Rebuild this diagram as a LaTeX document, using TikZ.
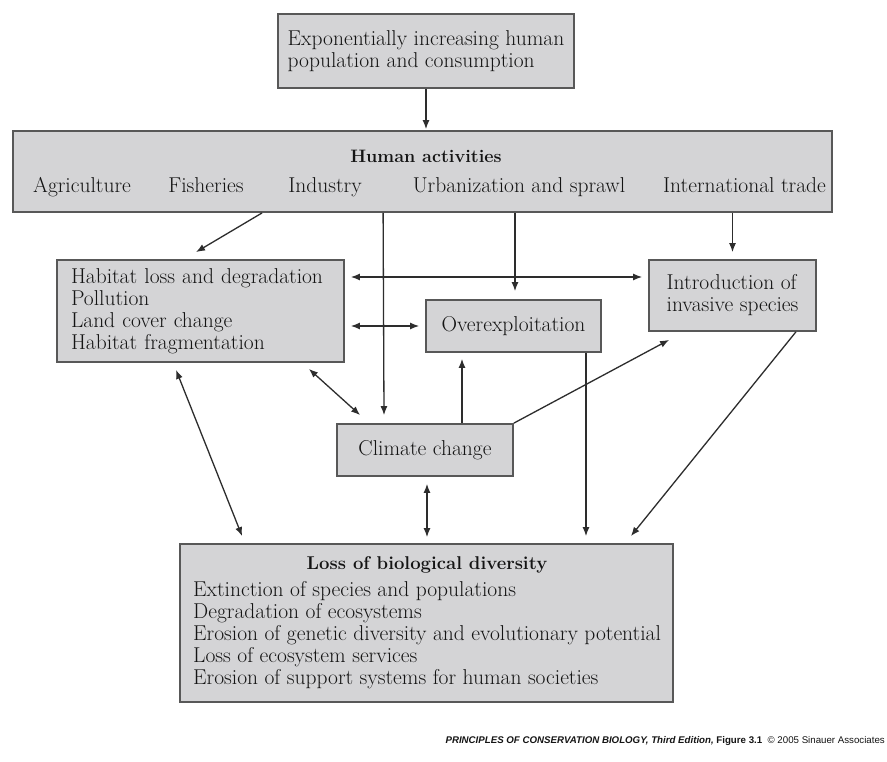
\documentclass[tikz,border=0pt]{standalone}
\usepackage{fontspec}
\newfontfamily\footfont{Liberation Sans}
\usetikzlibrary{arrows.meta}
\definecolor{boxfill}{RGB}{212,212,214}
\definecolor{boxline}{RGB}{88,88,88}
\definecolor{inkc}{RGB}{20,20,20}
\definecolor{arrc}{RGB}{45,45,45}
\tikzset{
  boxnode/.style={draw=boxline, line width=1.8pt, fill=boxfill, inner ysep=0pt,
    font=\fontsize{21.5}{22}\selectfont, text=inkc},
  txt/.style={inner sep=0pt, font=\fontsize{21.5}{22}\selectfont, text=inkc},
  arr/.style={draw=arrc, line width=1.3pt, -{Latex[length=9pt,width=7pt]}},
  darr/.style={draw=arrc, line width=1.3pt, {Latex[length=9pt,width=7pt]}-{Latex[length=9pt,width=7pt]}}
}
\begin{document}
\begin{tikzpicture}[x=1pt,y=-1pt]
\useasboundingbox (0,0) rectangle (887,762);
\fill[white] (0,0) rectangle (887,762);

% boxes
\node[boxnode, minimum width=296pt, minimum height=74pt, align=left] (top) at (426,51)
  {Exponentially increasing human\\population and consumption};
\node[boxnode, minimum width=819pt, minimum height=81pt] (hum) at (422.5,171.5) {};
\node[txt, font=\fontsize{18}{20}\selectfont\bfseries] (humt) at (426,156) {Human activities};
\node[txt, anchor=base] (agr) at (82,193) {Agriculture};
\node[txt, anchor=base] (fis) at (206,193) {Fisheries};
\node[txt, anchor=base] (ind) at (325,193) {Industry};
\node[txt, anchor=base] (urb) at (519,193) {Urbanization and sprawl};
\node[txt, anchor=base] (itr) at (744.5,193) {International trade};

\node[boxnode, inner xsep=14pt, text width=259pt, minimum height=102pt, align=left] (hab) at (200.5,311)
  {Habitat loss and degradation\\Pollution\\Land cover change\\Habitat fragmentation};
\node[boxnode, minimum width=175pt, minimum height=52pt] (ovr) at (513.5,326) {Overexploitation};
\node[boxnode, minimum width=167pt, minimum height=71pt, align=left] (intro) at (732.5,295.5)
  {Introduction of\\invasive species};
\node[boxnode, minimum width=176pt, minimum height=52pt] (clim) at (425,450) {Climate change};

\node[boxnode, minimum width=493pt, minimum height=158pt] (loss) at (426.5,623) {};
\node[txt, font=\fontsize{18.5}{22}\selectfont\bfseries] (losst) at (427,565) {Loss of biological diversity};
\node[txt, anchor=west, align=left] (lossl) at (193,635)
  {Extinction of species and populations\\Degradation of ecosystems\\Erosion of genetic diversity and evolutionary potential\\Loss of ecosystem services\\Erosion of support systems for human societies};

% connectors
\draw[arr] (top.south) -- ([yshift=1pt]top.south |- hum.north);
\draw[arr] ([xshift=250pt]hum.south west) -- ([xshift=-4.5pt,yshift=7pt]hab.north);
\draw[arr] ([xshift=371pt]hum.south west) -- ([xshift=-41pt,yshift=8pt]clim.north);
\draw[arr] ([xshift=1.5pt]ovr.north |- hum.south) -- ([xshift=1.5pt,yshift=8pt]ovr.north);
\draw[arr] (intro.north |- hum.south) -- ([yshift=7pt]intro.north);
\draw[darr] ([xshift=6pt,yshift=34pt]hab.east) -- ([xshift=-6pt,yshift=18.5pt]intro.west);
\draw[darr] ([xshift=6pt,yshift=-15pt]hab.east) -- ([xshift=-6pt]ovr.west);
\draw[darr] ([xshift=-36pt,yshift=-6pt]hab.south east) -- ([xshift=24pt,yshift=8pt]clim.north west);
\draw[arr] ([xshift=37pt]clim.north) -- ([xshift=-51.5pt,yshift=-6pt]ovr.south);
\draw[arr] (clim.north east) -- ([xshift=21pt,yshift=-8pt]intro.south west);
\draw[arr] ([xshift=72.5pt]ovr.south) -- ([xshift=159.5pt,yshift=7pt]loss.north);
\draw[arr] ([xshift=-21pt]intro.south east) -- ([xshift=-43pt,yshift=7pt]loss.north east);
\draw[darr] ([xshift=2pt,yshift=-7pt]clim.south) -- ([xshift=0.5pt,yshift=6pt]loss.north);
\draw[darr] ([xshift=-24.5pt,yshift=-7pt]hab.south) -- ([xshift=63pt,yshift=7pt]loss.north west);

% footer
\node[inner sep=0pt, anchor=east, font=\footfont\fontsize{9.7}{12}\selectfont, text=inkc] (foot) at (885,741)
  {\textbf{\textit{PRINCIPLES OF CONSERVATION BIOLOGY, Third Edition,}} \textbf{Figure 3.1}\ \ © 2005 Sinauer Associates};
\end{tikzpicture}
\end{document}
